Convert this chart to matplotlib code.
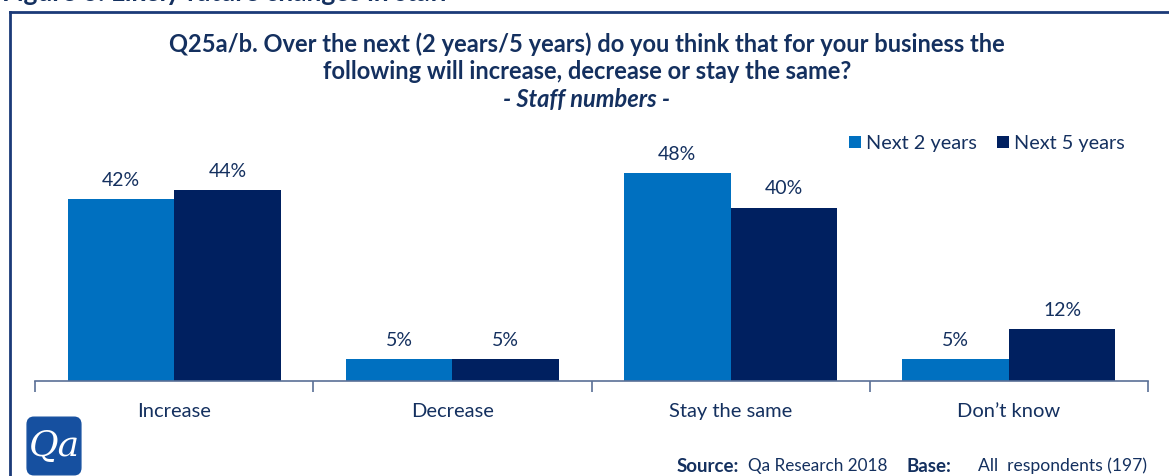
import matplotlib.pyplot as plt
import numpy as np
from matplotlib.patches import FancyBboxPatch
from matplotlib.lines import Line2D

plt.rcParams['font.family'] = ['Lato', 'DejaVu Sans']

categories = ["Increase", "Decrease", "Stay the same", "Don\u2019t know"]
next_2_years = [42, 5, 48, 5]
next_5_years = [44, 5, 40, 12]
series_names = ["Next 2 years", "Next 5 years"]

navy = "#14305f"
c2 = "#0070c0"
c5 = "#002060"

fig = plt.figure(figsize=(11.69, 4.76), dpi=100)

# outer frame (left and top edges only)
fig.add_artist(Line2D([10 / 1169, 10 / 1169], [0, 1 - 12 / 476], transform=fig.transFigure,
                      color="#1b3a78", lw=2))
fig.add_artist(Line2D([10 / 1169, 1], [1 - 12 / 476, 1 - 12 / 476], transform=fig.transFigure,
                      color="#1b3a78", lw=2))

# figure caption, mostly cut off at the top
fig.text(2 / 1169, 1 - 1 / 476, "Figure 6: Likely future changes in staff", fontsize=19,
         fontweight="bold", color=navy, ha="left", va="baseline")

ax = fig.add_axes([35 / 1169, 1 - 381 / 476, (1148 - 35) / 1169, 260 / 476])
x = np.arange(len(categories))
w = 0.383
b2 = ax.bar(x - w / 2, next_2_years, w, color=c2, label=series_names[0])
b5 = ax.bar(x + w / 2, next_5_years, w, color=c5, label=series_names[1])

for bars, vals in [(b2, next_2_years), (b5, next_5_years)]:
    for r, v in zip(bars, vals):
        ax.text(r.get_x() + r.get_width() / 2, v + 2.4, f"{v}%", ha="center", va="bottom",
                fontsize=14, color=navy)

ax.set_xlim(-0.5, len(categories) - 0.5)
ax.set_ylim(0, 60)
ax.set_yticks([])
for s in ["top", "right", "left"]:
    ax.spines[s].set_visible(False)
ax.spines["bottom"].set_color("#5a6f96")
ax.spines["bottom"].set_linewidth(1.2)
ax.set_xticks(np.arange(-0.5, len(categories)))
ax.set_xticklabels([])
ax.tick_params(axis="x", length=8, color="#5a6f96", width=1.2)
for xi, cat in zip(x, categories):
    ax.text(xi, -7, cat, ha="center", va="center", fontsize=14.5, color=navy)

ax.legend(loc="upper right", bbox_to_anchor=(0.988, 0.985), ncol=2, frameon=False, fontsize=14.3,
          handlelength=0.6, handleheight=0.6, handletextpad=0.25, columnspacing=1.0,
          labelcolor=navy, borderaxespad=0.1)

title = "Q25a/b. Over the next (2 years/5 years) do you think that for your business the\nfollowing will increase, decrease or stay the same?"
fig.text(587 / 1169, 1 - 58 / 476, title, ha="center", va="center", fontsize=17,
         fontweight="bold", color=navy, linespacing=1.2)
fig.text(587 / 1169, 1 - 100 / 476, "- Staff numbers -", ha="center", va="center",
         fontsize=17, fontweight="bold", fontstyle="italic", color=navy)

# source line
src_y = 1 - 466 / 476
fig.text(677 / 1169, src_y, "Source:", ha="left", va="center", fontsize=13.5,
         fontweight="bold", color=navy)
fig.text(748 / 1169, src_y, "Qa Research 2018", ha="left", va="center", fontsize=12.3, color=navy)
fig.text(907 / 1169, src_y, "Base:", ha="left", va="center", fontsize=13.5,
         fontweight="bold", color=navy)
fig.text(978 / 1169, src_y, "All  respondents (197)", ha="left", va="center",
         fontsize=12.6, color=navy)

# logo badge
logo = fig.add_axes([26 / 1169, 0, 56 / 1169, 60 / 476])
logo.set_xlim(0, 1)
logo.set_ylim(0, 1)
logo.axis("off")
logo.add_patch(FancyBboxPatch((0.02, 0.02), 0.96, 0.96, boxstyle="round,pad=0,rounding_size=0.12",
                              color="#1650a0"))
logo.text(0.5, 0.5, "Qa", ha="center", va="center", fontsize=26, color="white",
          family="DejaVu Serif", fontstyle="italic")

fig.savefig("out.png", dpi=100)
